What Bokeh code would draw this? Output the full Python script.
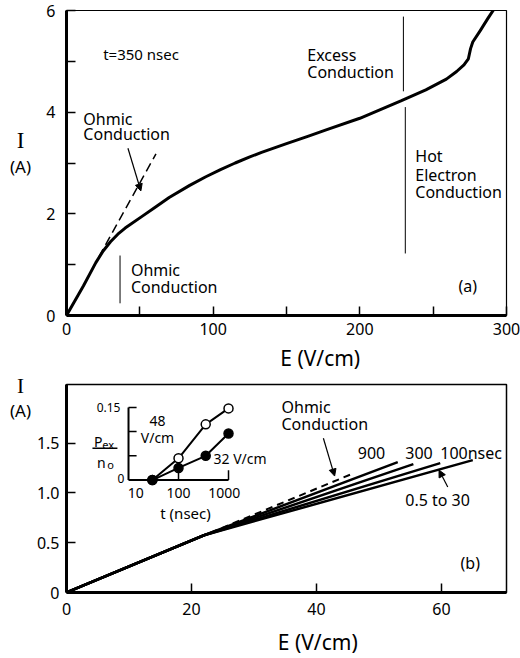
from bokeh.plotting import figure
from bokeh.layouts import column, row
from bokeh.models import (Range1d, FixedTicker, Label, Arrow, NormalHead,
                          LogScale, LinearAxis)
from bokeh.embed import file_html
from bokeh.resources import INLINE

FONT = "Noto Sans"

# ---- (a) I-E characteristic at t = 350 nsec ----
curve_E = [0, 11.5, 20, 25, 30, 35, 40, 52, 60, 70, 84, 95, 105, 115, 125,
           133, 150, 165, 178, 200, 228, 245, 259, 266, 271, 274, 275.5,
           277, 282, 287, 292]
curve_I = [0, 0.58, 1.04, 1.27, 1.45, 1.6, 1.72, 1.96, 2.12, 2.32, 2.56,
           2.73, 2.87, 3.0, 3.12, 3.21, 3.38, 3.53, 3.66, 3.88, 4.22, 4.44,
           4.65, 4.8, 4.93, 5.05, 5.25, 5.38, 5.6, 5.83, 6.05]
ohmic_a_E = [22, 61]
ohmic_a_I = [1.15, 3.18]

# ---- (b) I-E curves for several delay times ----
ohmic_b_E = [0, 46]
ohmic_b_I = [0, 1.2]
E_900 = [0, 22, 53.0]
I_900 = [0, 0.575, 1.31]
E_300 = [0, 22, 55.5]
I_300 = [0, 0.575, 1.29]
E_100 = [0, 22, 59.8]
I_100 = [0, 0.575, 1.30]
E_short = [0, 22, 65.0]
I_short = [0, 0.575, 1.33]

# ---- inset: P_ex/n_o versus time ----
t_48 = [30, 100, 350, 1000]
p_48 = [0, 0.045, 0.115, 0.148]
t_32 = [30, 100, 350, 1000]
p_32 = [0, 0.025, 0.05, 0.096]
inset_yticks = [0.05, 0.10, 0.15]
inset_xticks = [100, 1000]

a_xticks = [0, 50, 100, 150, 200, 250, 300]
a_yticks = [0, 1, 2, 3, 4, 5, 6]
b_xticks = [0, 20, 40, 60]
b_yticks = [0, 0.5, 1.0, 1.5]

LABEL_W = 32    # width of the strip that carries the "I (A)" titles
LEFT = 34       # left border of both panels, right of the strip


def style_axes(p, label_size="16px", x_standoff=7, y_standoff=8):
    p.outline_line_color = "black"
    p.outline_line_width = 1.2
    p.xgrid.visible = False
    p.ygrid.visible = False
    for ax in (p.xaxis[0], p.yaxis[0]):
        ax.axis_line_width = 3
        ax.axis_line_color = "black"
        ax.major_tick_in = 9
        ax.major_tick_out = 0
        ax.major_tick_line_width = 1.5
        ax.major_tick_line_color = "black"
        ax.minor_tick_line_color = None
        ax.major_label_text_font = FONT
        ax.major_label_text_font_size = label_size
        ax.major_label_text_color = "black"
    p.xaxis[0].major_label_standoff = x_standoff
    p.yaxis[0].major_label_standoff = y_standoff


def x_title(p, at, text, standoff):
    # x-axis title carried by a bare axis below the tick labels
    ax = LinearAxis(ticker=FixedTicker(ticks=[at]),
                    major_label_overrides={at: text},
                    axis_line_color=None, major_tick_line_color=None,
                    minor_tick_line_color=None, major_label_standoff=standoff,
                    major_label_text_font=FONT,
                    major_label_text_font_size="21px",
                    major_label_text_color="black")
    p.add_layout(ax, "below")


def txt(p, x, y, text, size="16px", align="left", baseline="middle",
        font=FONT, xr="default", yr="default"):
    p.add_layout(Label(x=x, y=y, text=text, text_font=font,
                       text_font_size=size, text_align=align,
                       text_baseline=baseline, text_color="black",
                       x_range_name=xr, y_range_name=yr))


# ======================= panel (a) =======================
pa = figure(width=520 - LABEL_W, height=374, output_backend="svg",
            toolbar_location=None,
            x_range=Range1d(0, 300), y_range=Range1d(0, 6),
            min_border_left=LEFT, min_border_right=14,
            min_border_top=10, min_border_bottom=57,
            background_fill_color="white", border_fill_color="white")
style_axes(pa, x_standoff=7, y_standoff=11)
pa.xaxis[0].ticker = FixedTicker(ticks=a_xticks)
pa.xaxis[0].major_label_overrides = {50: "", 150: "", 250: ""}
pa.yaxis[0].ticker = FixedTicker(ticks=a_yticks)
pa.yaxis[0].major_label_overrides = {1: "", 3: "", 5: ""}
x_title(pa, 173, "E (V/cm)", 0)

pa.line(curve_E, curve_I, line_width=3, line_color="black",
        line_join="round", line_cap="round")
pa.line(ohmic_a_E, ohmic_a_I, line_width=1.5, line_color="black",
        line_dash="9 5")

# range brackets
pa.line([36.5, 36.5], [0.24, 1.18], line_width=1, line_color="black")
pa.line([229.7, 229.7], [4.41, 5.88], line_width=1, line_color="black")
pa.line([231, 231], [1.22, 4.1], line_width=1, line_color="black")

txt(pa, 25, 5.14, "t=350 nsec", size="15px")
txt(pa, 11.5, 3.86, "Ohmic")
txt(pa, 11.5, 3.57, "Conduction")
pa.add_layout(Arrow(end=NormalHead(size=7, fill_color="black",
                                   line_color="black"),
                    x_start=41.9, y_start=3.29, x_end=50.7, y_end=2.45,
                    line_width=1.2, line_color="black"))
txt(pa, 43.9, 0.90, "Ohmic")
txt(pa, 43.9, 0.57, "Conduction")
txt(pa, 164.2, 5.12, "Excess")
txt(pa, 164.2, 4.80, "Conduction")
txt(pa, 237.8, 3.14, "Hot")
txt(pa, 237.8, 2.76, "Electron")
txt(pa, 237.8, 2.42, "Conduction")
txt(pa, 273.6, 0.59, "(a)", align="center")

# ======================= panel (b) =======================
pb = figure(width=520 - LABEL_W, height=284, output_backend="svg",
            toolbar_location=None,
            x_range=Range1d(0, 70.4), y_range=Range1d(0, 2.09),
            extra_x_ranges={"inset": Range1d(0.575, 3.63e8)},
            extra_x_scales={"inset": LogScale()},
            extra_y_ranges={"inset": Range1d(-0.2322, 0.1973)},
            min_border_left=LEFT, min_border_right=14,
            min_border_top=10, min_border_bottom=65,
            background_fill_color="white", border_fill_color="white")
style_axes(pb, x_standoff=10, y_standoff=7)
pb.outline_line_width = 1.5
pb.xaxis[0].ticker = FixedTicker(ticks=b_xticks)
pb.yaxis[0].ticker = FixedTicker(ticks=b_yticks)
pb.yaxis[0].major_label_overrides = {0: "0", 0.5: "0.5", 1: "1.0", 1.5: "1.5"}
x_title(pb, 40.2, "E (V/cm)", 4)

pb.line(ohmic_b_E, ohmic_b_I, line_width=2, line_color="black",
        line_dash="7 5")
for xs, ys in ((E_900, I_900), (E_300, I_300), (E_100, I_100),
               (E_short, I_short)):
    pb.line(xs, ys, line_width=2.5, line_color="black", line_join="round")

txt(pb, 34.4, 1.86, "Ohmic")
txt(pb, 34.4, 1.69, "Conduction")
pb.add_layout(Arrow(end=NormalHead(size=7, fill_color="black",
                                   line_color="black"),
                    x_start=41.1, y_start=1.55, x_end=42.9, y_end=1.17,
                    line_width=1.2, line_color="black"))
txt(pb, 46.6, 1.40, "900")
txt(pb, 54.2, 1.40, "300")
txt(pb, 59.8, 1.40, "100nsec")
txt(pb, 54.2, 0.93, "0.5 to 30")
pb.add_layout(Arrow(end=NormalHead(size=7, fill_color="black",
                                   line_color="black"),
                    x_start=61.0, y_start=1.06, x_end=59.6, y_end=1.23,
                    line_width=1.2, line_color="black"))
txt(pb, 64.6, 0.30, "(b)", align="center")

# ---- inset axes, drawn in the inset coordinate system ----
IR = dict(x_range_name="inset", y_range_name="inset")
pb.line([10, 10], [0, 0.15], line_width=2, line_color="black", **IR)
pb.line([10, 1000], [0, 0], line_width=2, line_color="black", **IR)
pb.segment(x0=[10] * len(inset_yticks), y0=inset_yticks,
           x1=[14.5] * len(inset_yticks), y1=inset_yticks,
           line_width=1.5, line_color="black", **IR)
pb.segment(x0=inset_xticks, y0=[0] * len(inset_xticks),
           x1=inset_xticks, y1=[0.02] * len(inset_xticks),
           line_width=1.5, line_color="black", **IR)

pb.line(t_48, p_48, line_width=2, line_color="black", **IR)
pb.line(t_32, p_32, line_width=2, line_color="black", **IR)
pb.scatter(t_48, p_48, marker="circle", size=9, line_width=1.5,
           line_color="black", fill_color="white", **IR)
pb.scatter(t_32, p_32, marker="circle", size=9, line_width=1.5,
           line_color="black", fill_color="black", **IR)

ins = dict(xr="inset", yr="inset")
txt(pb, 6.9, 0.15, "0.15", size="12px", align="right", **ins)
txt(pb, 8.3, 0.003, "0", size="12px", align="right", **ins)
txt(pb, 14, -0.027, "10", size="14px", align="center", **ins)
txt(pb, 100, -0.027, "100", size="14px", align="center", **ins)
txt(pb, 820, -0.027, "1000", size="14px", align="center", **ins)
txt(pb, 138, -0.068, "t (nsec)", size="15px", align="center", **ins)
txt(pb, 38, 0.121, "48", size="14px", align="center", **ins)
txt(pb, 38, 0.088, "V/cm", size="14px", align="center", **ins)
txt(pb, 501, 0.045, "32 V/cm", size="14px", **ins)

# P_ex / n_o fraction label
txt(pb, 2.05, 0.079, "P", size="14px", baseline="alphabetic", **ins)
txt(pb, 3.0, 0.074, "ex", size="11px", baseline="alphabetic", **ins)
pb.line([1.9, 6.0], [0.0657, 0.0657], line_width=1.3, line_color="black",
        **IR)
txt(pb, 2.35, 0.037, "n", size="14px", baseline="alphabetic", **ins)
txt(pb, 3.75, 0.032, "o", size="11px", baseline="alphabetic", **ins)

# ---- strip on the left with the current-axis titles (pixel units) ----
strip = figure(width=LABEL_W, height=658, output_backend="svg",
               toolbar_location=None, x_range=Range1d(0, LABEL_W),
               y_range=Range1d(658, 0), x_axis_type=None, y_axis_type=None,
               min_border=0, outline_line_color=None,
               background_fill_color="white", border_fill_color="white")
strip.xgrid.visible = False
strip.ygrid.visible = False
txt(strip, 20, 140, "I", size="23px", align="center", font="Liberation Serif")
txt(strip, 20, 166, "(A)", size="17px", align="center")
txt(strip, 20, 385, "I", size="21px", align="center", font="Liberation Serif")
txt(strip, 20, 410, "(A)", size="17px", align="center")

layout = row(strip, column(pa, pb, spacing=0), spacing=0)
open("out.html", "w").write(file_html(layout, INLINE))
